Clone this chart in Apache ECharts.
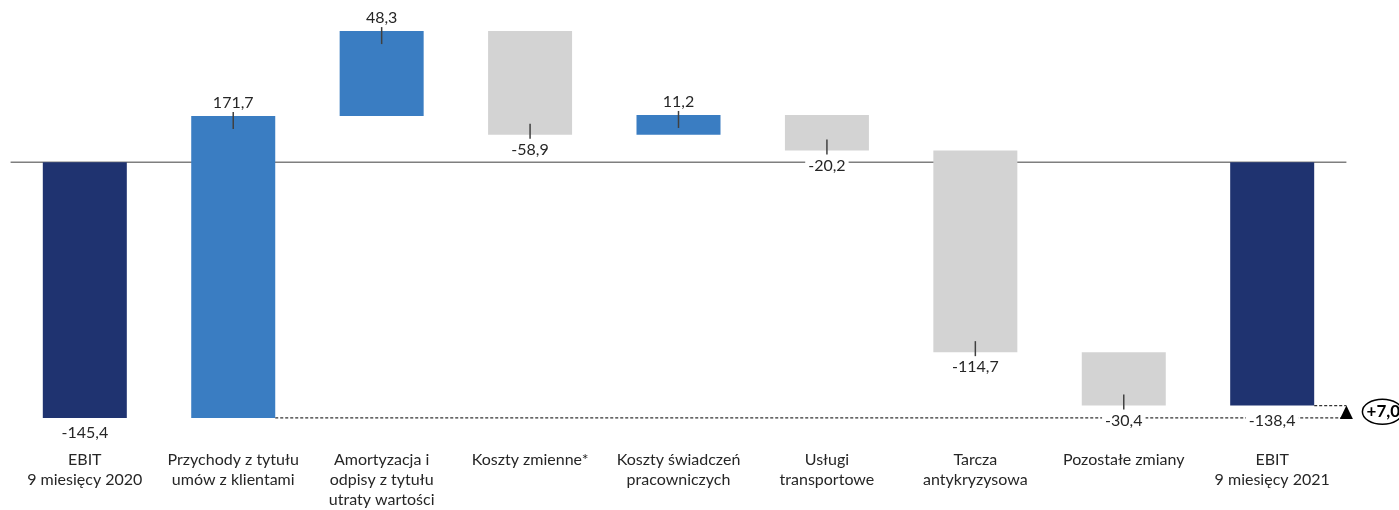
<!DOCTYPE html>
<html>
<head>
<meta charset="utf-8">
<script src="https://cdn.jsdelivr.net/npm/echarts@6/dist/echarts.min.js"></script>
<style>
  html, body { margin: 0; padding: 0; background: #fff; }
  #chart { width: 1399px; height: 510px; }
</style>
</head>
<body>
<div id="chart"></div>
<script>
// EBIT bridge, 9 months 2020 -> 9 months 2021 (mln zł)
const categories = [
  'EBIT\n9 miesięcy 2020',
  'Przychody z tytułu\numów z klientami',
  'Amortyzacja i\nodpisy z tytułu\nutraty wartości',
  'Koszty zmienne*',
  'Koszty świadczeń\npracowniczych',
  'Usługi\ntransportowe',
  'Tarcza\nantykryzysowa',
  'Pozostałe zmiany',
  'EBIT\n9 miesięcy 2021'
];
const values = [-145.4, 171.7, 48.3, -58.9, 11.2, -20.2, -114.7, -30.4, -138.4];
const isTotal = [true, false, false, false, false, false, false, false, true];

const COLORS = { total: '#1F3370', up: '#3A7DC2', down: '#D3D3D3' };
const FONT = 'Lato, "Noto Sans", sans-serif';
const fmt = v => v.toFixed(1).replace('.', ',');

// floating bar extents: [index, low, high, value] plus kind
const bars = [];
let running = 0;
values.forEach((v, i) => {
  let start, end, kind;
  if (isTotal[i]) { start = 0; end = v; kind = 'total'; }
  else { start = running; end = running + v; kind = v >= 0 ? 'up' : 'down'; }
  running = end;
  bars.push([i, Math.min(start, end), Math.max(start, end), v, kind]);
});

const first = values[0];
const last = values[values.length - 1];
const change = last - first;

function renderBar(params, api) {
  const i = api.value(0), low = api.value(1), high = api.value(2), v = api.value(3);
  const kind = bars[params.dataIndex][4];
  const band = api.size([1, 0])[0];
  const w = band * 0.566;
  const pTop = api.coord([i, high]);
  const pBot = api.coord([i, low]);
  const cx = pTop[0];
  const up = v >= 0;
  const edge = up ? pTop[1] : pBot[1];
  const children = [{
    type: 'rect',
    shape: { x: cx - w / 2, y: pTop[1], width: w, height: pBot[1] - pTop[1] },
    style: { fill: COLORS[kind] }
  }, {
    type: 'text',
    x: cx, y: up ? edge - 13 : edge + 15,
    style: {
      text: fmt(v), fill: '#262626', font: '16px ' + FONT,
      align: 'center', verticalAlign: 'middle',
      backgroundColor: '#fff', padding: [0, 3]
    }
  }];
  if (kind !== 'total') {
    children.push({
      type: 'line',
      shape: up ? { x1: cx, y1: edge - 4, x2: cx, y2: edge + 13 }
                : { x1: cx, y1: edge + 4, x2: cx, y2: edge - 11 },
      style: { stroke: '#404040', lineWidth: 1.5 }
    });
  }
  return { type: 'group', children };
}

// zero line across the plot
function renderZero(params, api) {
  const cs = params.coordSys;
  const y = api.coord([0, 0])[1];
  return { type: 'line', shape: { x1: cs.x, y1: y, x2: cs.x + cs.width, y2: y },
           style: { stroke: '#7F7F7F', lineWidth: 1.5 } };
}

// dashed reference levels of both EBIT totals, change marker and bubble
function renderBridge(params, api) {
  const cs = params.coordSys;
  const xEnd = cs.x + cs.width;
  const band = api.size([1, 0])[0];
  const w = band * 0.566;
  const yFirst = api.coord([0, first])[1];
  const yLast = api.coord([values.length - 1, last])[1];
  const xFrom = api.coord([1, first])[0] + w / 2;
  const xLastBar = api.coord([values.length - 1, last])[0] + w / 2;
  const dash = { stroke: '#333', lineWidth: 1.2, lineDash: [3, 2] };
  return {
    type: 'group',
    children: [
      { type: 'line', shape: { x1: xFrom, y1: yFirst, x2: xEnd - 4, y2: yFirst }, style: dash },
      { type: 'line', shape: { x1: xLastBar, y1: yLast, x2: xEnd, y2: yLast }, style: dash },
      { type: 'polygon', shape: { points: [[xEnd, yLast], [xEnd + 6.5, yFirst + 1], [xEnd - 6.5, yFirst + 1]] },
        style: { fill: '#000' } },
      { type: 'ellipse', shape: { cx: xEnd + 36, cy: (yFirst + yLast) / 2, rx: 20, ry: 12.5 },
        style: { fill: '#fff', stroke: '#000', lineWidth: 1.5 } },
      { type: 'text', x: xEnd + 37, y: (yFirst + yLast) / 2,
        style: { text: (change >= 0 ? '+' : '') + fmt(change), fill: '#000',
                 font: 'bold 17px ' + FONT, align: 'center', verticalAlign: 'middle' } }
    ]
  };
}

const chart = echarts.init(document.getElementById('chart'), null, { renderer: 'canvas' });
chart.setOption({
  animation: false,
  grid: { left: 10.6, right: 52.6, top: 4, bottom: 80.5 },
  xAxis: {
    type: 'category',
    data: categories,
    axisLine: { show: false },
    axisTick: { show: false },
    axisLabel: { interval: 0, margin: 24, fontSize: 16, lineHeight: 20,
                 fontFamily: FONT, color: '#262626' }
  },
  yAxis: {
    type: 'value', min: -150, max: 90,
    show: false, splitLine: { show: false }
  },
  series: [
    { type: 'custom', z: 1, clip: false, renderItem: renderZero, data: [[0, 0]],
      encode: { x: 0, y: 1 }, silent: true },
    { type: 'custom', z: 2, clip: false, renderItem: renderBridge, data: [[0, first]],
      encode: { x: 0, y: 1 }, silent: true },
    { type: 'custom', z: 3, clip: false, renderItem: renderBar,
      data: bars.map(b => b.slice(0, 4)), encode: { x: 0, y: [1, 2] } }
  ]
});
</script>
</body>
</html>
